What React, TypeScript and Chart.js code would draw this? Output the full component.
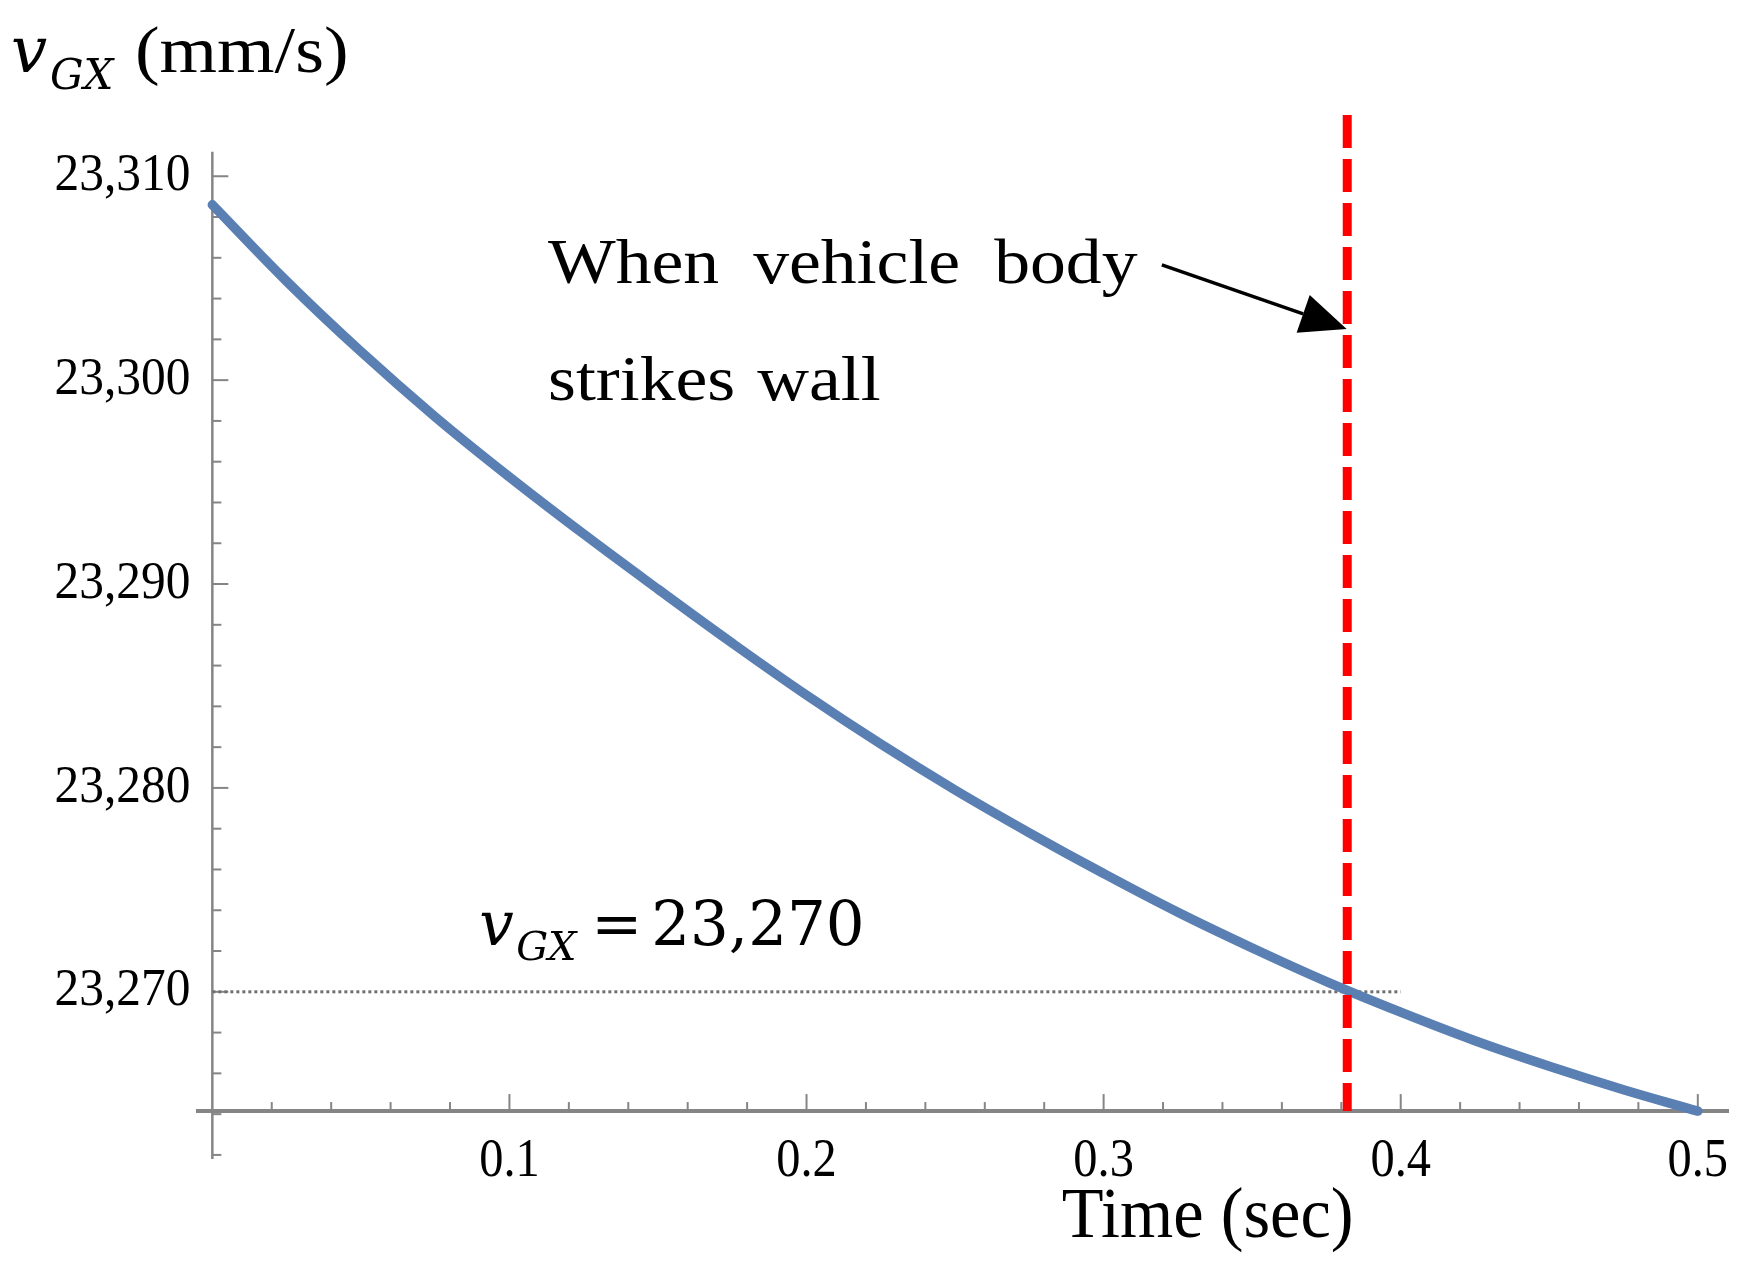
import { useEffect, useRef } from 'react';
import { Chart, registerables } from 'chart.js';

Chart.register(...registerables);

// ---- data ----
const TIME = [0, 0.025, 0.05, 0.075, 0.1, 0.125, 0.15, 0.175, 0.2, 0.225, 0.25, 0.275, 0.3, 0.325, 0.35, 0.375, 0.4, 0.425, 0.45, 0.475, 0.5];
const VGX = [23308.6, 23304.85, 23301.4, 23298.2, 23295.25, 23292.45, 23289.75, 23287.1, 23284.55, 23282.15, 23279.9, 23277.8, 23275.8, 23273.9, 23272.15, 23270.5, 23269.0, 23267.6, 23266.35, 23265.2, 23264.15];

const Y_TICKS = [23270, 23280, 23290, 23300, 23310];
const X_TICKS = [0.1, 0.2, 0.3, 0.4, 0.5];
const X_TICK_LABELS = ['0.1', '0.2', '0.3', '0.4', '0.5'];

const STRIKE_T = 0.382;
const STRIKE_TOP = 23313.0;
const REF_V = 23270;
const REF_END = 0.4;

// axis geometry (in data units)
const X_MIN = -0.0055;
const X_MAX = 0.5105;
const Y_MIN = 23261.8;
const Y_MAX = 23313.2;
const X_AXIS_AT = 23264.15;
const Y_AXIS_TOP = 23311.2;
const Y_MINOR_STEP = 2;
const X_MINOR_STEP = 0.02;

const AXIS_COLOR = '#858585';
const CURVE_COLOR = '#5a7fb3';

type TxtOpts = { sx?: number; align?: 'left' | 'right' | 'center'; baseline?: CanvasTextBaseline; color?: string };

function drawTxt(ctx: CanvasRenderingContext2D, s: string, x: number, y: number, font: string, o: TxtOpts = {}) {
  const sx = o.sx ?? 1;
  ctx.save();
  ctx.font = font;
  ctx.fillStyle = o.color ?? '#000';
  ctx.textBaseline = o.baseline ?? 'alphabetic';
  ctx.textAlign = 'left';
  const w = ctx.measureText(s).width * sx;
  let x0 = x;
  if (o.align === 'right') x0 = x - w;
  else if (o.align === 'center') x0 = x - w / 2;
  ctx.translate(x0, y);
  ctx.scale(sx, 1);
  ctx.fillText(s, 0, 0);
  ctx.restore();
  return w;
}

function line(ctx: CanvasRenderingContext2D, x1: number, y1: number, x2: number, y2: number) {
  ctx.beginPath();
  ctx.moveTo(x1, y1);
  ctx.lineTo(x2, y2);
  ctx.stroke();
}

const SERIF = "'Liberation Serif', 'Times New Roman', serif";
const MATH = "'DejaVu Serif', serif";

const axesPlugin = {
  id: 'mathAxes',
  beforeDatasetsDraw(chart: any) {
    const ctx: CanvasRenderingContext2D = chart.ctx;
    const xs = chart.scales.x;
    const ys = chart.scales.y;
    const ax = xs.getPixelForValue(0);
    const ay = ys.getPixelForValue(X_AXIS_AT);
    ctx.save();
    ctx.strokeStyle = AXIS_COLOR;
    ctx.lineCap = 'butt';

    // y axis line
    ctx.lineWidth = 2.5;
    line(ctx, ax, ys.getPixelForValue(Y_MIN), ax, ys.getPixelForValue(Y_AXIS_TOP));
    // y ticks
    ctx.lineWidth = 2;
    for (let v = Y_MIN + 0.2; v <= Y_TICKS[Y_TICKS.length - 1] + 0.01; v += Y_MINOR_STEP) {
      const val = Math.round(v);
      const major = Y_TICKS.includes(val);
      const py = ys.getPixelForValue(val);
      line(ctx, ax, py, ax + (major ? 16 : 9), py);
    }

    // x axis line
    ctx.lineWidth = 4;
    line(ctx, xs.getPixelForValue(X_MIN), ay, xs.getPixelForValue(X_MAX), ay);
    // x ticks
    ctx.lineWidth = 2;
    for (let i = 1; i * X_MINOR_STEP <= 0.5 + 1e-9; i++) {
      const t = i * X_MINOR_STEP;
      const major = i % 5 === 0;
      const px = xs.getPixelForValue(t);
      line(ctx, px, ay, px, ay - (major ? 17 : 9));
    }
    ctx.restore();

    // tick labels
    Y_TICKS.forEach((v) => {
      drawTxt(ctx, v.toLocaleString('en-US'), ax - 22, ys.getPixelForValue(v), `52px ${SERIF}`, { sx: 0.95, align: 'right', baseline: 'middle' });
    });
    X_TICKS.forEach((t, i) => {
      drawTxt(ctx, X_TICK_LABELS[i], xs.getPixelForValue(t), ay + 23, `55px ${SERIF}`, { sx: 0.88, align: 'center', baseline: 'top' });
    });

    // x axis title
    drawTxt(ctx, 'Time (sec)', xs.getPixelForValue(0.335), ay + 126, `72px ${SERIF}`, { sx: 0.95, align: 'center' });

    // y axis title (top-left)
    drawTxt(ctx, 'v', 11, 72, `italic 64px ${MATH}`);
    drawTxt(ctx, 'GX', 50, 89, `italic 42px ${MATH}`);
    drawTxt(ctx, '(mm/s)', 135, 72, `66px ${SERIF}`, { sx: 1.12 });
  },
  afterDatasetsDraw(chart: any) {
    const ctx: CanvasRenderingContext2D = chart.ctx;
    const xs = chart.scales.x;
    const ys = chart.scales.y;

    // annotation text
    const tx = xs.getPixelForValue(0.113);
    const ty1 = ys.getPixelForValue(23304.76);
    const ty2 = ys.getPixelForValue(23299.03);
    const f = `64px ${SERIF}`;
    let x = tx;
    ['When', 'vehicle', 'body'].forEach((w) => {
      x += drawTxt(ctx, w, x, ty1, f, { sx: 1.12 }) + 34;
    });
    x = tx;
    ['strikes', 'wall'].forEach((w) => {
      x += drawTxt(ctx, w, x, ty2, f, { sx: 1.12 }) + 22;
    });

    // arrow
    const x1 = xs.getPixelForValue(0.3196);
    const y1 = ys.getPixelForValue(23305.65);
    const x2 = xs.getPixelForValue(0.3818);
    const y2 = ys.getPixelForValue(23302.51);
    const ang = Math.atan2(y2 - y1, x2 - x1);
    const headLen = 46;
    const headHalf = 20;
    const bx = x2 - headLen * Math.cos(ang);
    const by = y2 - headLen * Math.sin(ang);
    ctx.save();
    ctx.strokeStyle = '#000';
    ctx.fillStyle = '#000';
    ctx.lineWidth = 3.5;
    line(ctx, x1, y1, bx, by);
    ctx.beginPath();
    ctx.moveTo(x2, y2);
    ctx.lineTo(bx + headHalf * Math.sin(ang), by - headHalf * Math.cos(ang));
    ctx.lineTo(bx - headHalf * Math.sin(ang), by + headHalf * Math.cos(ang));
    ctx.closePath();
    ctx.fill();
    ctx.restore();

    // math label v_GX = 23,270
    const mx = xs.getPixelForValue(0.0898);
    const my = ys.getPixelForValue(23272.3);
    drawTxt(ctx, 'v', mx, my, `italic 61px ${MATH}`);
    drawTxt(ctx, 'GX', mx + 37, my + 15, `italic 40px ${MATH}`);
    drawTxt(ctx, '=', mx + 112, my, `61px ${MATH}`);
    drawTxt(ctx, '23,270', mx + 172, my, `61px ${MATH}`);
  },
};

export default function App() {
  const ref = useRef<HTMLCanvasElement | null>(null);
  useEffect(() => {
    if (!ref.current) return;
    const chart = new Chart(ref.current, {
      type: 'scatter',
      data: {
        datasets: [
          {
            label: 'reference',
            data: [{ x: 0, y: REF_V }, { x: REF_END, y: REF_V }],
            showLine: true,
            borderColor: '#707070',
            borderWidth: 3,
            borderDash: [3, 3],
            pointRadius: 0,
            order: 3,
          } as any,
          {
            label: 'vGX',
            data: TIME.map((t, i) => ({ x: t, y: VGX[i] })),
            showLine: true,
            borderColor: CURVE_COLOR,
            borderWidth: 9.5,
            borderCapStyle: 'round',
            tension: 0.4,
            pointRadius: 0,
            order: 2,
          } as any,
          {
            label: 'strike',
            data: [{ x: STRIKE_T, y: STRIKE_TOP }, { x: STRIKE_T, y: X_AXIS_AT }],
            showLine: true,
            borderColor: '#ff0000',
            borderWidth: 9,
            borderDash: [33, 11],
            pointRadius: 0,
            order: 1,
          } as any,
        ],
      },
      options: {
        animation: false,
        responsive: false,
        devicePixelRatio: 1,
        layout: { padding: { left: 196, right: 18, top: 111, bottom: 103 } },
        scales: {
          x: { type: 'linear', min: X_MIN, max: X_MAX, display: false },
          y: { type: 'linear', min: Y_MIN, max: Y_MAX, display: false },
        },
        plugins: { legend: { display: false }, tooltip: { enabled: false } },
      },
      plugins: [axesPlugin],
    });
    return () => chart.destroy();
  }, []);
  return (
    <div style={{ position: 'absolute', left: 0, top: 0, width: 1747, height: 1262, background: '#fff' }}>
      <canvas ref={ref} width={1747} height={1262} style={{ display: 'block', width: 1747, height: 1262 }} />
    </div>
  );
}
